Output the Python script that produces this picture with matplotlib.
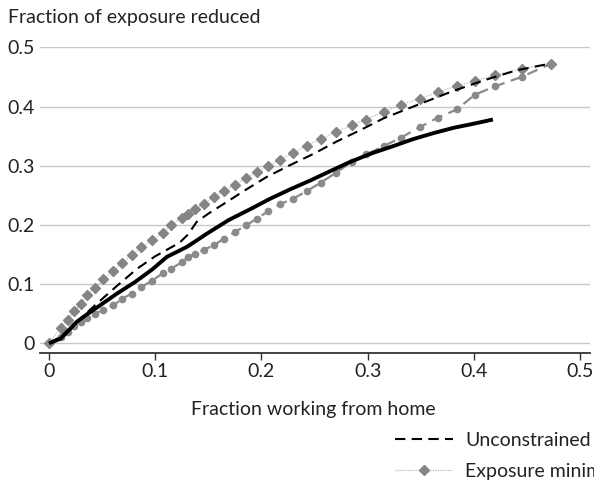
import matplotlib
matplotlib.use("Agg")
import matplotlib.pyplot as plt
from matplotlib.lines import Line2D

# Shared x values (fraction working from home) for the marker series
x_pts = [0, 0.011, 0.018, 0.0235, 0.030, 0.036, 0.043, 0.051, 0.0605, 0.069, 0.078,
         0.087, 0.097, 0.107, 0.115, 0.125, 0.131, 0.1375, 0.146, 0.155, 0.165,
         0.175, 0.1855, 0.1956, 0.2065, 0.2175, 0.230, 0.2427, 0.256, 0.270, 0.285,
         0.2985, 0.315, 0.331, 0.349, 0.366, 0.384, 0.401, 0.420, 0.445, 0.473]

exposure_min = [0, 0.026, 0.040, 0.054, 0.067, 0.081, 0.094, 0.108, 0.122, 0.136, 0.149,
                0.162, 0.174, 0.186, 0.200, 0.212, 0.219, 0.227, 0.236, 0.247, 0.258,
                0.268, 0.279, 0.289, 0.300, 0.310, 0.322, 0.334, 0.345, 0.357, 0.368,
                0.378, 0.391, 0.403, 0.413, 0.424, 0.435, 0.443, 0.453, 0.464, 0.4725]

circle_series = [0, 0.0106, 0.019, 0.0287, 0.036, 0.042, 0.050, 0.056, 0.064, 0.0755, 0.084,
                 0.095, 0.106, 0.118, 0.126, 0.137, 0.146, 0.1515, 0.158, 0.1655, 0.177,
                 0.188, 0.199, 0.2106, 0.223, 0.235, 0.2444, 0.257, 0.2715, 0.288, 0.306,
                 0.319, 0.333, 0.347, 0.365, 0.381, 0.395, 0.420, 0.434, 0.450, 0.4725]

unc_x = [0, 0.010, 0.026, 0.045, 0.064, 0.083, 0.100, 0.115, 0.123, 0.131, 0.139, 0.150,
         0.165, 0.185, 0.205, 0.227, 0.249, 0.271, 0.293, 0.315, 0.346, 0.378, 0.409,
         0.440, 0.472]
unc_y = [0, 0.010, 0.036, 0.067, 0.097, 0.126, 0.147, 0.162, 0.170, 0.184, 0.205, 0.219,
         0.236, 0.259, 0.281, 0.301, 0.320, 0.341, 0.360, 0.380, 0.402, 0.4245, 0.444,
         0.461, 0.4725]

solid_x = [0, 0.011, 0.017, 0.026, 0.035, 0.048, 0.064, 0.081, 0.097, 0.111, 0.130, 0.1485,
           0.169, 0.190, 0.208, 0.227, 0.246, 0.265, 0.283, 0.304, 0.324, 0.343, 0.362,
           0.381, 0.400, 0.418]
solid_y = [0, 0.008, 0.019, 0.036, 0.048, 0.064, 0.084, 0.1035, 0.1245, 0.146, 0.163, 0.185,
           0.208, 0.227, 0.244, 0.260, 0.275, 0.291, 0.306, 0.321, 0.333, 0.345, 0.355,
           0.364, 0.371, 0.378]

x_ticks = [0, 0.1, 0.2, 0.3, 0.4, 0.5]
x_tick_labels = ["0", "0.1", "0.2", "0.3", "0.4", "0.5"]
y_ticks = [0, 0.1, 0.2, 0.3, 0.4, 0.5]
y_tick_labels = ["0", "0.1", "0.2", "0.3", "0.4", "0.5"]

plt.rcParams['font.family'] = ['Lato', 'DejaVu Sans']
TXT = '#222222'
FS = 14

fig = plt.figure(figsize=(5.94, 4.83), dpi=100)
ax = fig.add_axes([40/594, 1 - 353/483, 550/594, (353 - 47.3)/483])

ax.set_xlim((40 - 49) / 1062, (590 - 49) / 1062)
ax.set_ylim((343.3 - 353) / 592, 0.5)

for yt in y_ticks:
    ax.axhline(yt, color='#c8c8c8', lw=1.0, zorder=0)

ax.plot(x_pts, exposure_min, color='#bdbdbd', lw=0.9, ls=(0, (1, 1)),
        marker='D', markersize=5.5, markerfacecolor='#858585', markeredgecolor='#858585',
        zorder=3)
ax.plot(x_pts, circle_series, color='#8a8a8a', lw=1.6, ls=(0, (5, 3)),
        marker='o', markersize=4.5, markerfacecolor='#8a8a8a', markeredgecolor='#8a8a8a',
        zorder=3)
ax.plot(solid_x, solid_y, color='black', lw=2.8, zorder=4, solid_capstyle='butt')
ax.plot(unc_x, unc_y, color='black', lw=1.5, ls=(0, (5, 3)), zorder=5)

for s in ['top', 'right', 'left']:
    ax.spines[s].set_visible(False)
ax.spines['bottom'].set_color('#333333')
ax.spines['bottom'].set_linewidth(1.3)

ax.set_xticks(x_ticks)
ax.set_xticklabels(x_tick_labels)
ax.set_yticks(y_ticks)
ax.set_yticklabels(y_tick_labels)
ax.tick_params(axis='x', direction='out', length=5, width=1.0, color='#333333',
               labelsize=FS, labelcolor=TXT, pad=2)
ax.tick_params(axis='y', length=0, labelsize=FS, labelcolor=TXT, pad=4)

fig.text(8/594, 1 - 18/483, "Fraction of exposure reduced", fontsize=FS, color=TXT,
         ha='left', va='center')
fig.text(313/594, 1 - 409/483, "Fraction working from home", fontsize=FS, color=TXT,
         ha='center', va='center')

handles = [
    Line2D([0], [0], color='black', lw=1.5, ls=(0, (5, 3))),
    Line2D([0], [0], color='#bdbdbd', lw=0.9, ls=(0, (1, 1)), marker='D',
           markersize=5.5, markerfacecolor='#858585', markeredgecolor='#858585',
           markevery=[1]),
]
leg = fig.legend(handles, ["Unconstrained", "Exposure minimizing"],
                 loc='upper left', bbox_to_anchor=(395/594, 1 - 432/483),
                 frameon=False, fontsize=FS, handlelength=3.0, handletextpad=0.6,
                 labelspacing=0.72, borderaxespad=0, borderpad=0)
for t in leg.get_texts():
    t.set_color(TXT)

fig.savefig("out.png", dpi=100)
